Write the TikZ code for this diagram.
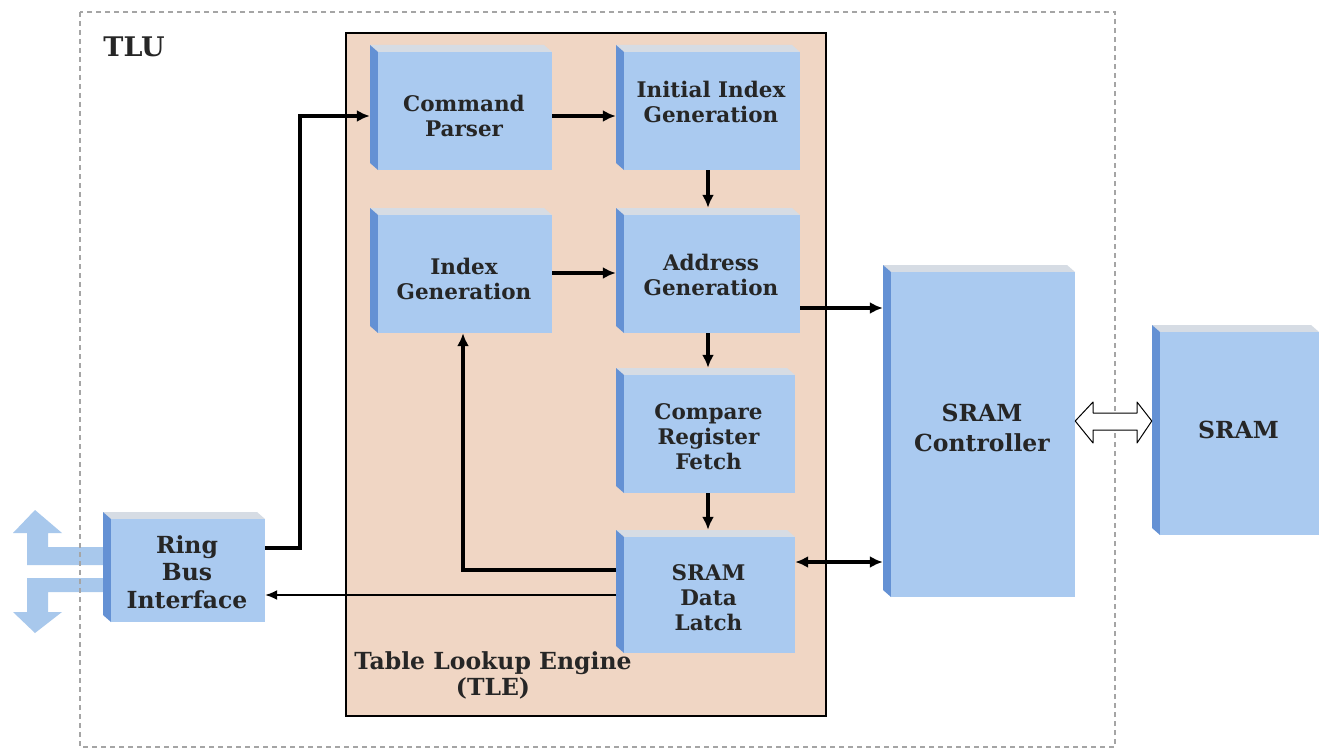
\documentclass[tikz,border=0pt]{standalone}
\usepackage{fontspec}
\setmainfont{DejaVu Serif}
\usetikzlibrary{arrows.meta,calc}
\definecolor{facec}{RGB}{170,202,240}
\definecolor{sidec}{RGB}{100,145,212}
\definecolor{topc}{RGB}{214,220,228}
\definecolor{tlec}{RGB}{240,214,196}
\definecolor{framec}{RGB}{165,165,165}
\definecolor{busc}{RGB}{168,200,236}
\newcommand{\blk}[7][]{%
  \fill[topc] (#3,#4) -- ({#5-8},#4) -- (#5,{#4+7}) -- ({#3+8},{#4+7}) -- cycle;
  \fill[sidec] (#3,#4) -- ({#3+8},{#4+7}) -- ({#3+8},#6) -- (#3,{#6-7}) -- cycle;
  \fill[facec] ({#3+8},{#4+7}) rectangle (#5,#6);
  \node[blkbox, minimum width={(#5-#3)*1pt}, minimum height={(#6-#4)*1pt}] (#2) at ({(#3+#5)/2},{(#4+#6)/2}) {};
  \node[blktext, #1] (#2t) at ({(#3+#5)/2+3},{(#4+#6)/2}) {#7};}
\begin{document}
\begin{tikzpicture}[x=1pt,y=-1pt,
  blkbox/.style={inner sep=0pt},
  blktext/.style={inner sep=0pt, align=center, font=\fontsize{21.5}{25}\selectfont\bfseries, text=black!85},
  bigtext/.style={font=\fontsize{23.5}{27.5}\selectfont\bfseries},
  lbl/.style={inner sep=0pt, align=center, font=\fontsize{23.5}{26}\selectfont\bfseries, text=black!85},
  arr/.style={line width=3.5pt, -{Latex[length=13pt,width=12pt]}},
  darr/.style={line width=3.5pt, {Latex[length=13pt,width=12pt]}-{Latex[length=13pt,width=12pt]}},
  tarr/.style={line width=1.8pt, -{Latex[length=12pt,width=10pt]}}]
\useasboundingbox (0,0) rectangle (1319,749);
\fill[white] (0,0) rectangle (1319,749);
% TLE box
\node[draw=black, line width=1.2pt, fill=tlec, minimum width=480pt, minimum height=683pt, inner sep=0pt] (tle) at (586,374.5) {};
\node[lbl] (tlelbl) at (493,675) {Table Lookup Engine\\(TLE)};
% blocks
\blk[yshift=-8pt]{cmd}{370}{45}{552}{170}{Command\\Parser}
\blk[yshift=6pt]{iig}{616}{45}{800}{170}{Initial Index\\Generation}
\blk[yshift=-8pt]{ig}{370}{208}{552}{333}{Index\\Generation}
\blk[yshift=-4pt]{ag}{616}{208}{800}{333}{Address\\Generation}
\blk[yshift=-6pt]{crf}{616}{368}{795}{493}{Compare\\Register\\Fetch}
\blk[yshift=-6pt]{sdl}{616}{530}{795}{653}{SRAM\\Data\\Latch}
\blk[bigtext, font=\fontsize{23.5}{30}\selectfont\bfseries, yshift=3pt]{sramc}{883}{265}{1075}{597}{SRAM\\Controller}
\blk[bigtext]{sram}{1152}{325}{1319}{535}{SRAM}
\blk[bigtext, yshift=-5pt]{rbi}{103}{512}{265}{622}{Ring\\Bus\\Interface}
% ring bus arrows
\fill[busc] (rbi.west |- 0,547) -- (48,547) -- (48,533) -- (62,533) -- (35,510) -- (13,533) -- (27,533) -- (27,565) -- (rbi.west |- 0,565) -- cycle;
\fill[busc] (rbi.west |- 0,578) -- (27,578) -- (27,612) -- (13,612) -- (35,633) -- (62,612) -- (48,612) -- (48,592) -- (rbi.west |- 0,592) -- cycle;
% TLU frame
\draw[framec, line width=1.5pt, dash pattern=on 5pt off 4pt] (80,12) rectangle (1115,747);
\node[inner sep=0pt, font=\fontsize{27}{30}\selectfont\bfseries, text=black!85] (tlu) at (134,47) {TLU};
% connectors
\coordinate (k1) at (300,548);
\draw[arr] (rbi.east |- k1) -- (k1) |- (cmd.west |- 0,116);
\draw[arr] (cmd.east |- 0,116) -- (iig.west |- 0,116);
\draw[arr] (iig.south -| 708,0) -- (ag.north -| 708,0);
\draw[arr] (ig.east |- 0,273) -- (ag.west |- 0,273);
\draw[arr] (ag.east |- 0,308) -- (sramc.west |- 0,308);
\draw[arr] (ag.south -| 708,0) -- (crf.north -| 708,0);
\draw[arr] (crf.south -| 708,0) -- (sdl.north -| 708,0);
\coordinate (k2) at (463,570);
\draw[arr] (sdl.west |- k2) -- (k2) -- (ig.south -| k2);
\draw[tarr] (sdl.west |- 0,595) -- (rbi.east |- 0,595);
\draw[darr] (sdl.east |- 0,562) -- (sramc.west |- 0,562);
% hollow double arrow
\draw[fill=white, line width=1pt, line join=round] (sramc.east |- 0,421) -- (1093,402) -- (1093,413) -- (1137,413) -- (1137,402) -- (sram.west |- 0,421) -- (1137,443) -- (1137,430) -- (1093,430) -- (1093,443) -- cycle;
\end{tikzpicture}
\end{document}
